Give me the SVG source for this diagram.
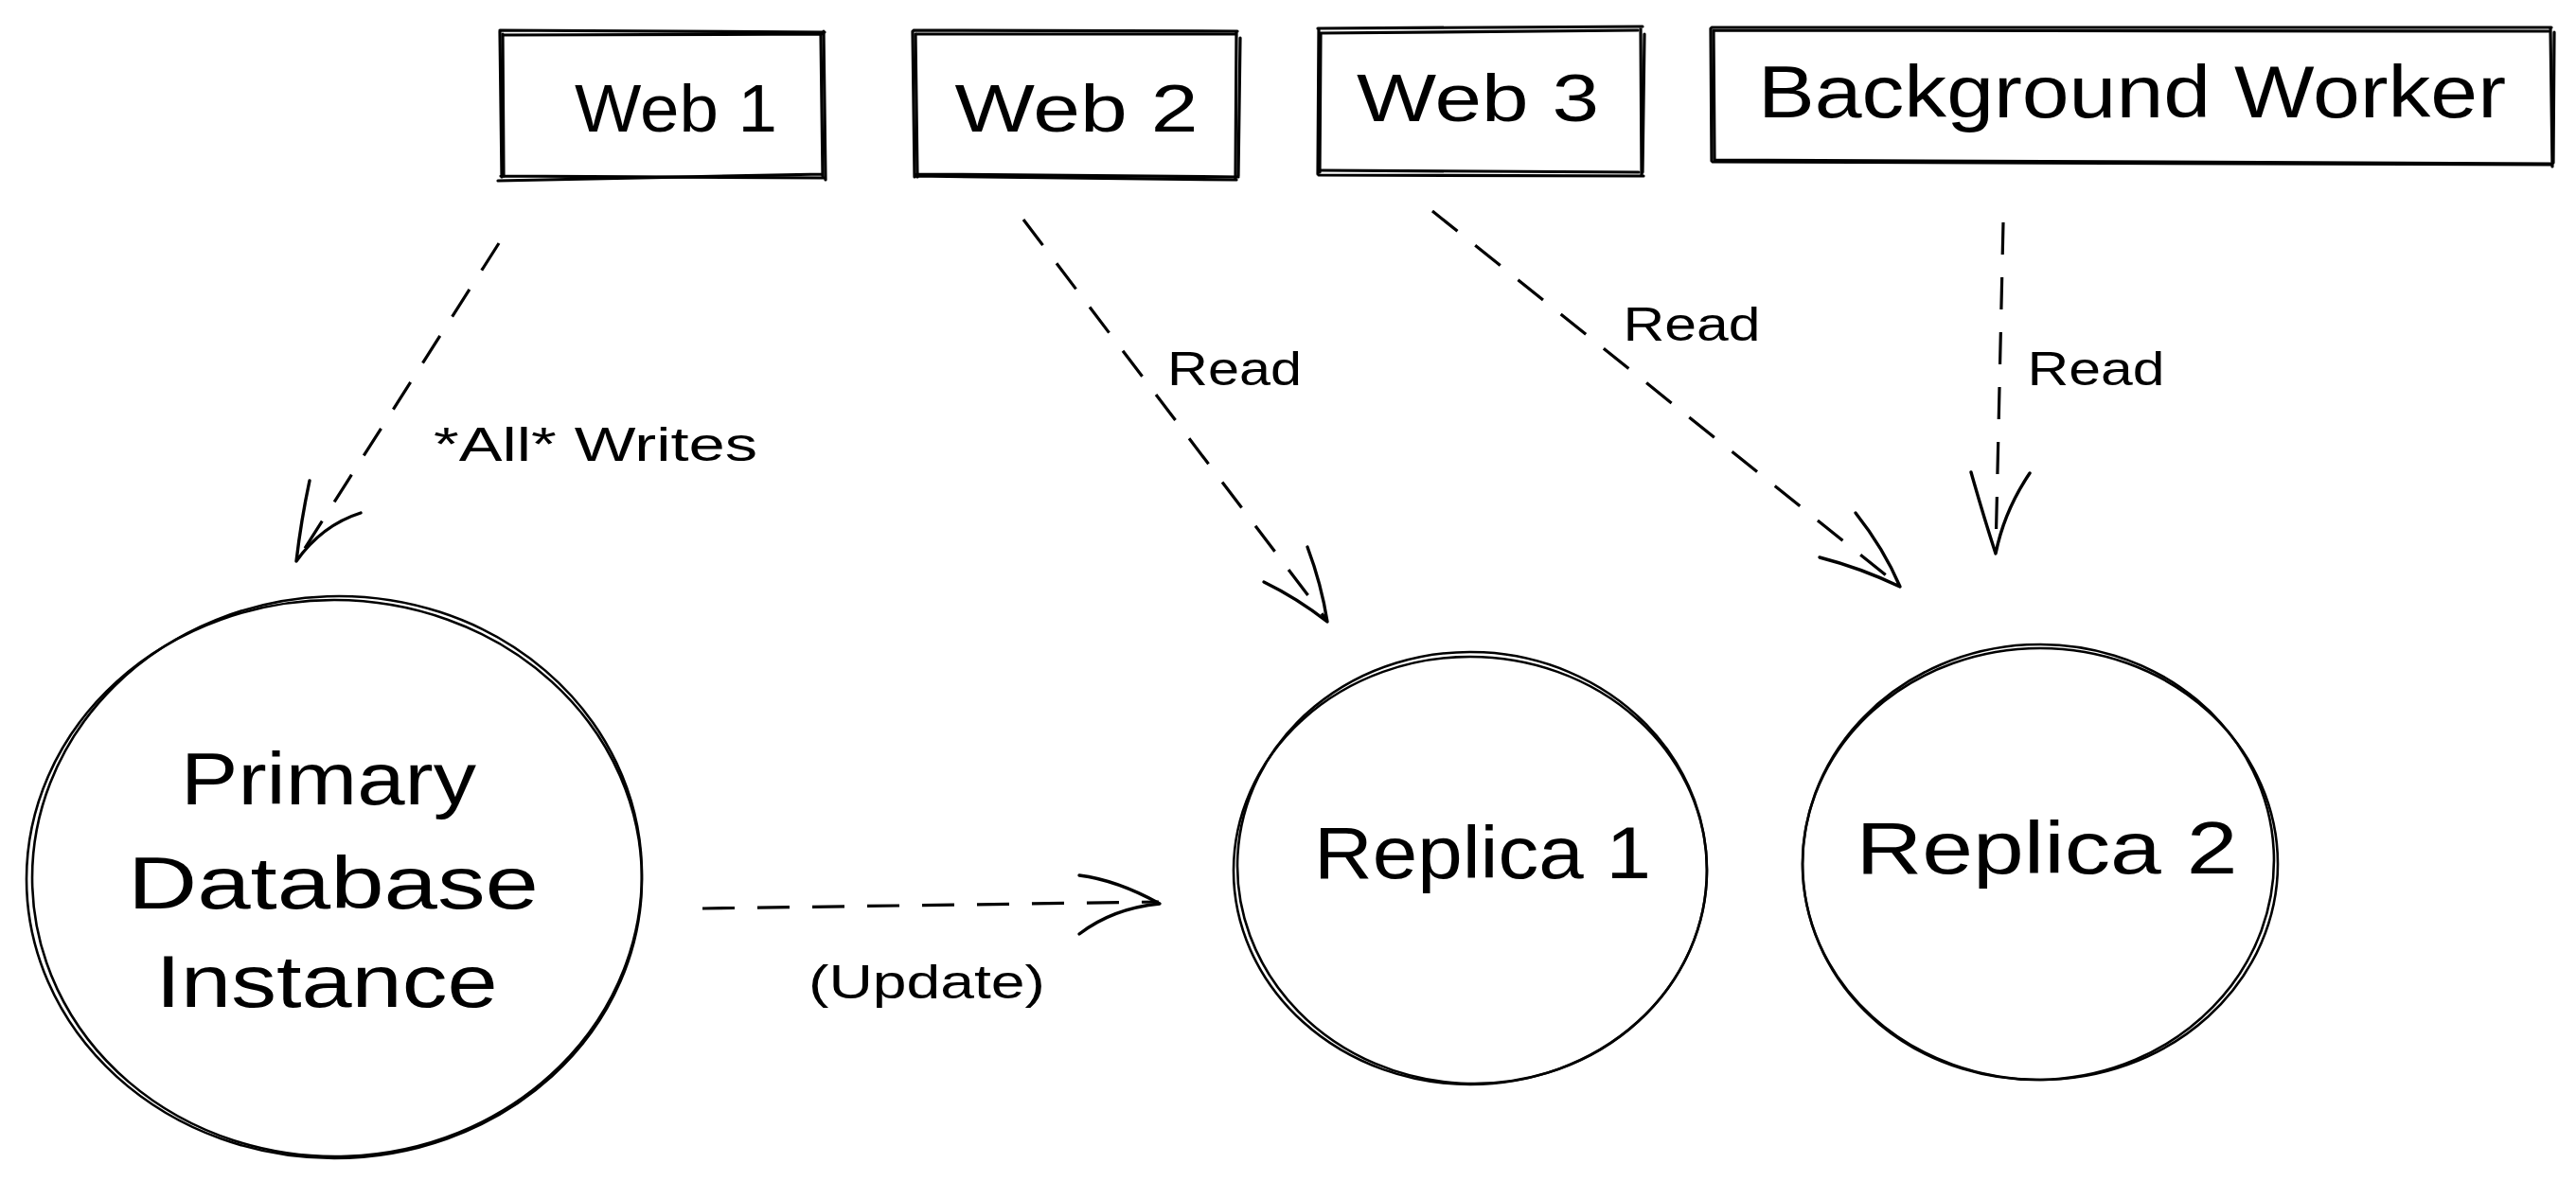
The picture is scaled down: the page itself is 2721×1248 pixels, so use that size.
<svg xmlns="http://www.w3.org/2000/svg" width="2721" height="1248" viewBox="0 0 2721 1248">
<defs>
<style>
.bx{fill:none;stroke:#000;stroke-width:3.2;stroke-linecap:round;stroke-linejoin:round}
.el{fill:none;stroke:#000;stroke-width:2.6}
.dash{fill:none;stroke:#000;stroke-width:3.2;stroke-dasharray:34 24;stroke-linecap:butt}
.head{fill:none;stroke:#000;stroke-width:3.4;stroke-linecap:round;stroke-linejoin:round}
.t{font-family:"Liberation Sans","Noto Sans",Arial,sans-serif;fill:#000;text-anchor:middle}
.n{font-size:70px}
.big{font-size:78px}
.lb{font-size:50px}
</style>
</defs>
<rect width="2721" height="1248" fill="#fff"/>

<g id="web1">
<path class="bx" d="M528,32 L871,34 M870,33 L872,190 M872,188 L529,186 M530,187 L528,33"/>
<path class="bx" d="M531,37 L868,36 M867,36 L869,186 M869,184 L526,191 M532,186 L531,36"/>
<text class="t n" x="714" y="139" textLength="214" lengthAdjust="spacingAndGlyphs">Web 1</text>
</g>

<g id="web2">
<path class="bx" d="M965,32 L1307,33 M1306,34 L1305,188 M1306,190 L967,186 M966,187 L964,33"/>
<path class="bx" d="M968,36 L1305,36 M1310,40 L1308,186 M1308,187 L968,184 M969,187 L967,36"/>
<text class="t n" x="1137" y="139" textLength="257" lengthAdjust="spacingAndGlyphs">Web 2</text>
</g>

<g id="web3">
<path class="bx" d="M1392,30 L1735,28 M1733,30 L1734,184 M1736,186 L1393,185 M1392,184 L1393,31"/>
<path class="bx" d="M1394,35 L1730,32 M1737,36 L1735,182 M1731,182 L1396,180 M1394,182 L1395,36"/>
<text class="t n" x="1561" y="128" textLength="256" lengthAdjust="spacingAndGlyphs">Web 3</text>
</g>

<g id="worker">
<path class="bx" d="M1808,29 L2695,29 M2694,30 L2696,176 M2696,174 L1809,171 M1808,170 L1807,30"/>
<path class="bx" d="M1810,32 L2692,33 M2698,34 L2697,172 M2694,173 L1811,169 M1811,168 L1810,32"/>
<text class="t big" x="2252" y="124" textLength="790" lengthAdjust="spacingAndGlyphs">Background Worker</text>
</g>

<g id="primary">
<ellipse class="el" cx="353" cy="929" rx="325" ry="295"/>
<ellipse class="el" cx="356" cy="926" rx="322" ry="296" transform="rotate(-2 356 926)"/>
<text class="t big" x="347" y="850" textLength="312" lengthAdjust="spacingAndGlyphs">Primary</text>
<text class="t big" x="352" y="960" textLength="434" lengthAdjust="spacingAndGlyphs">Database</text>
<text class="t big" x="345" y="1064" textLength="361" lengthAdjust="spacingAndGlyphs">Instance</text>
</g>

<g id="replica1">
<ellipse class="el" cx="1553" cy="920" rx="250" ry="226"/>
<ellipse class="el" cx="1555" cy="917" rx="248" ry="228" transform="rotate(3 1555 917)"/>
<text class="t big" x="1566" y="928" textLength="356" lengthAdjust="spacingAndGlyphs">Replica 1</text>
</g>

<g id="replica2">
<ellipse class="el" cx="2155" cy="913" rx="251" ry="228"/>
<ellipse class="el" cx="2153" cy="911" rx="249" ry="230" transform="rotate(-3 2153 911)"/>
<text class="t big" x="2162" y="923" textLength="403" lengthAdjust="spacingAndGlyphs">Replica 2</text>
</g>

<g id="connectors">
<line class="dash" x1="527" y1="257" x2="314" y2="592"/>
<path class="head" d="M327,508 Q318,550 313,593 Q340,555 381,542"/>
<text class="t lb" x="629" y="487" textLength="342" lengthAdjust="spacingAndGlyphs">*All* Writes</text>

<line class="dash" x1="1081" y1="232" x2="1402" y2="656"/>
<path class="head" d="M1381,578 Q1396,618 1402,657 Q1370,632 1335,615"/>
<text class="t lb" x="1304" y="407" textLength="142" lengthAdjust="spacingAndGlyphs">Read</text>

<line class="dash" x1="1513" y1="223" x2="2006" y2="619"/>
<path class="head" d="M1960,542 Q1990,580 2007,620 Q1965,600 1922,589"/>
<text class="t lb" x="1787" y="360" textLength="145" lengthAdjust="spacingAndGlyphs">Read</text>

<line class="dash" x1="2116" y1="235" x2="2108" y2="584"/>
<path class="head" d="M2082,499 Q2095,545 2108,585 Q2117,540 2144,500"/>
<text class="t lb" x="2214" y="407" textLength="145" lengthAdjust="spacingAndGlyphs">Read</text>

<line class="dash" x1="742" y1="960" x2="1224" y2="953"/>
<path class="head" d="M1140,925 Q1180,930 1225,955 Q1175,960 1140,987"/>
<text class="t lb" x="979" y="1055" textLength="250" lengthAdjust="spacingAndGlyphs">(Update)</text>
</g>
</svg>
